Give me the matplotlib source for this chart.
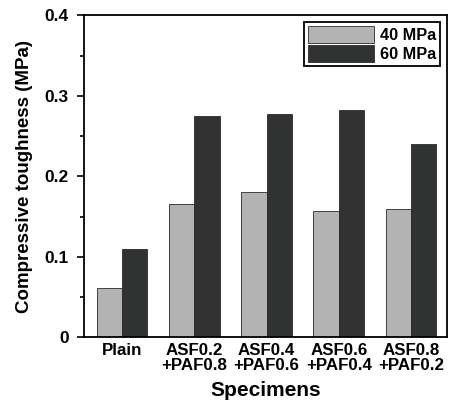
import numpy as np
import matplotlib
matplotlib.use("Agg")
from matplotlib import pyplot as plt
from matplotlib.ticker import MultipleLocator

plt.rcParams['font.family'] = ['Liberation Sans', 'DejaVu Sans']
plt.rcParams['font.weight'] = 'bold'

specimens = ["Plain", "ASF0.2\n+PAF0.8", "ASF0.4\n+PAF0.6", "ASF0.6\n+PAF0.4", "ASF0.8\n+PAF0.2"]
mpa40 = [0.061, 0.165, 0.180, 0.157, 0.159]
mpa60 = [0.110, 0.275, 0.277, 0.282, 0.240]

fig = plt.figure(figsize=(4.54, 4.03), dpi=100)
ax = fig.add_axes([84/454, 1-337.3/403, 363/454, 322/403])

x = np.arange(1, len(specimens)+1)
w = 0.35
ax.bar(x - w/2, mpa40, w, color='#b3b3b3', edgecolor='#2a2a2a', linewidth=0.6, label='40 MPa')
ax.bar(x + w/2, mpa60, w, color='#313332', edgecolor='#2a2a2a', linewidth=0.6, label='60 MPa')

ax.set_xlim(0.472, 5.5)
ax.set_ylim(0, 0.4)
ax.set_xticks(x)
ax.set_xticklabels(specimens, fontsize=12.2, fontweight='bold', linespacing=1.0)
ax.tick_params(axis='x', length=0, pad=4)
ax.yaxis.set_major_locator(MultipleLocator(0.1))
ax.yaxis.set_minor_locator(MultipleLocator(0.05))
ax.set_yticks([0, 0.1, 0.2, 0.3, 0.4])
ax.set_yticklabels(["0", "0.1", "0.2", "0.3", "0.4"], fontsize=12.5, fontweight='bold')
ax.tick_params(axis='y', which='major', length=5, width=1.2, direction='out', pad=6)
ax.tick_params(axis='y', which='minor', length=3, width=1.2, direction='out')
for s in ax.spines.values():
    s.set_linewidth(1.3)

ax.set_xlabel("Specimens", fontsize=15, fontweight='bold', labelpad=6)
ax.set_ylabel("Compressive toughness (MPa)", fontsize=13.5, fontweight='bold', labelpad=8)

leg = ax.legend(loc='upper right', fontsize=11.8, frameon=True, fancybox=False,
                handlelength=4.0, handleheight=1.2, borderpad=0.25, labelspacing=0.15,
                handletextpad=0.4, borderaxespad=0.4)
leg.get_frame().set_edgecolor('black')
leg.get_frame().set_linewidth(1.3)
leg.get_frame().set_alpha(1)
for t in leg.get_texts():
    t.set_fontweight('bold')

fig.savefig("out.png", dpi=100)
